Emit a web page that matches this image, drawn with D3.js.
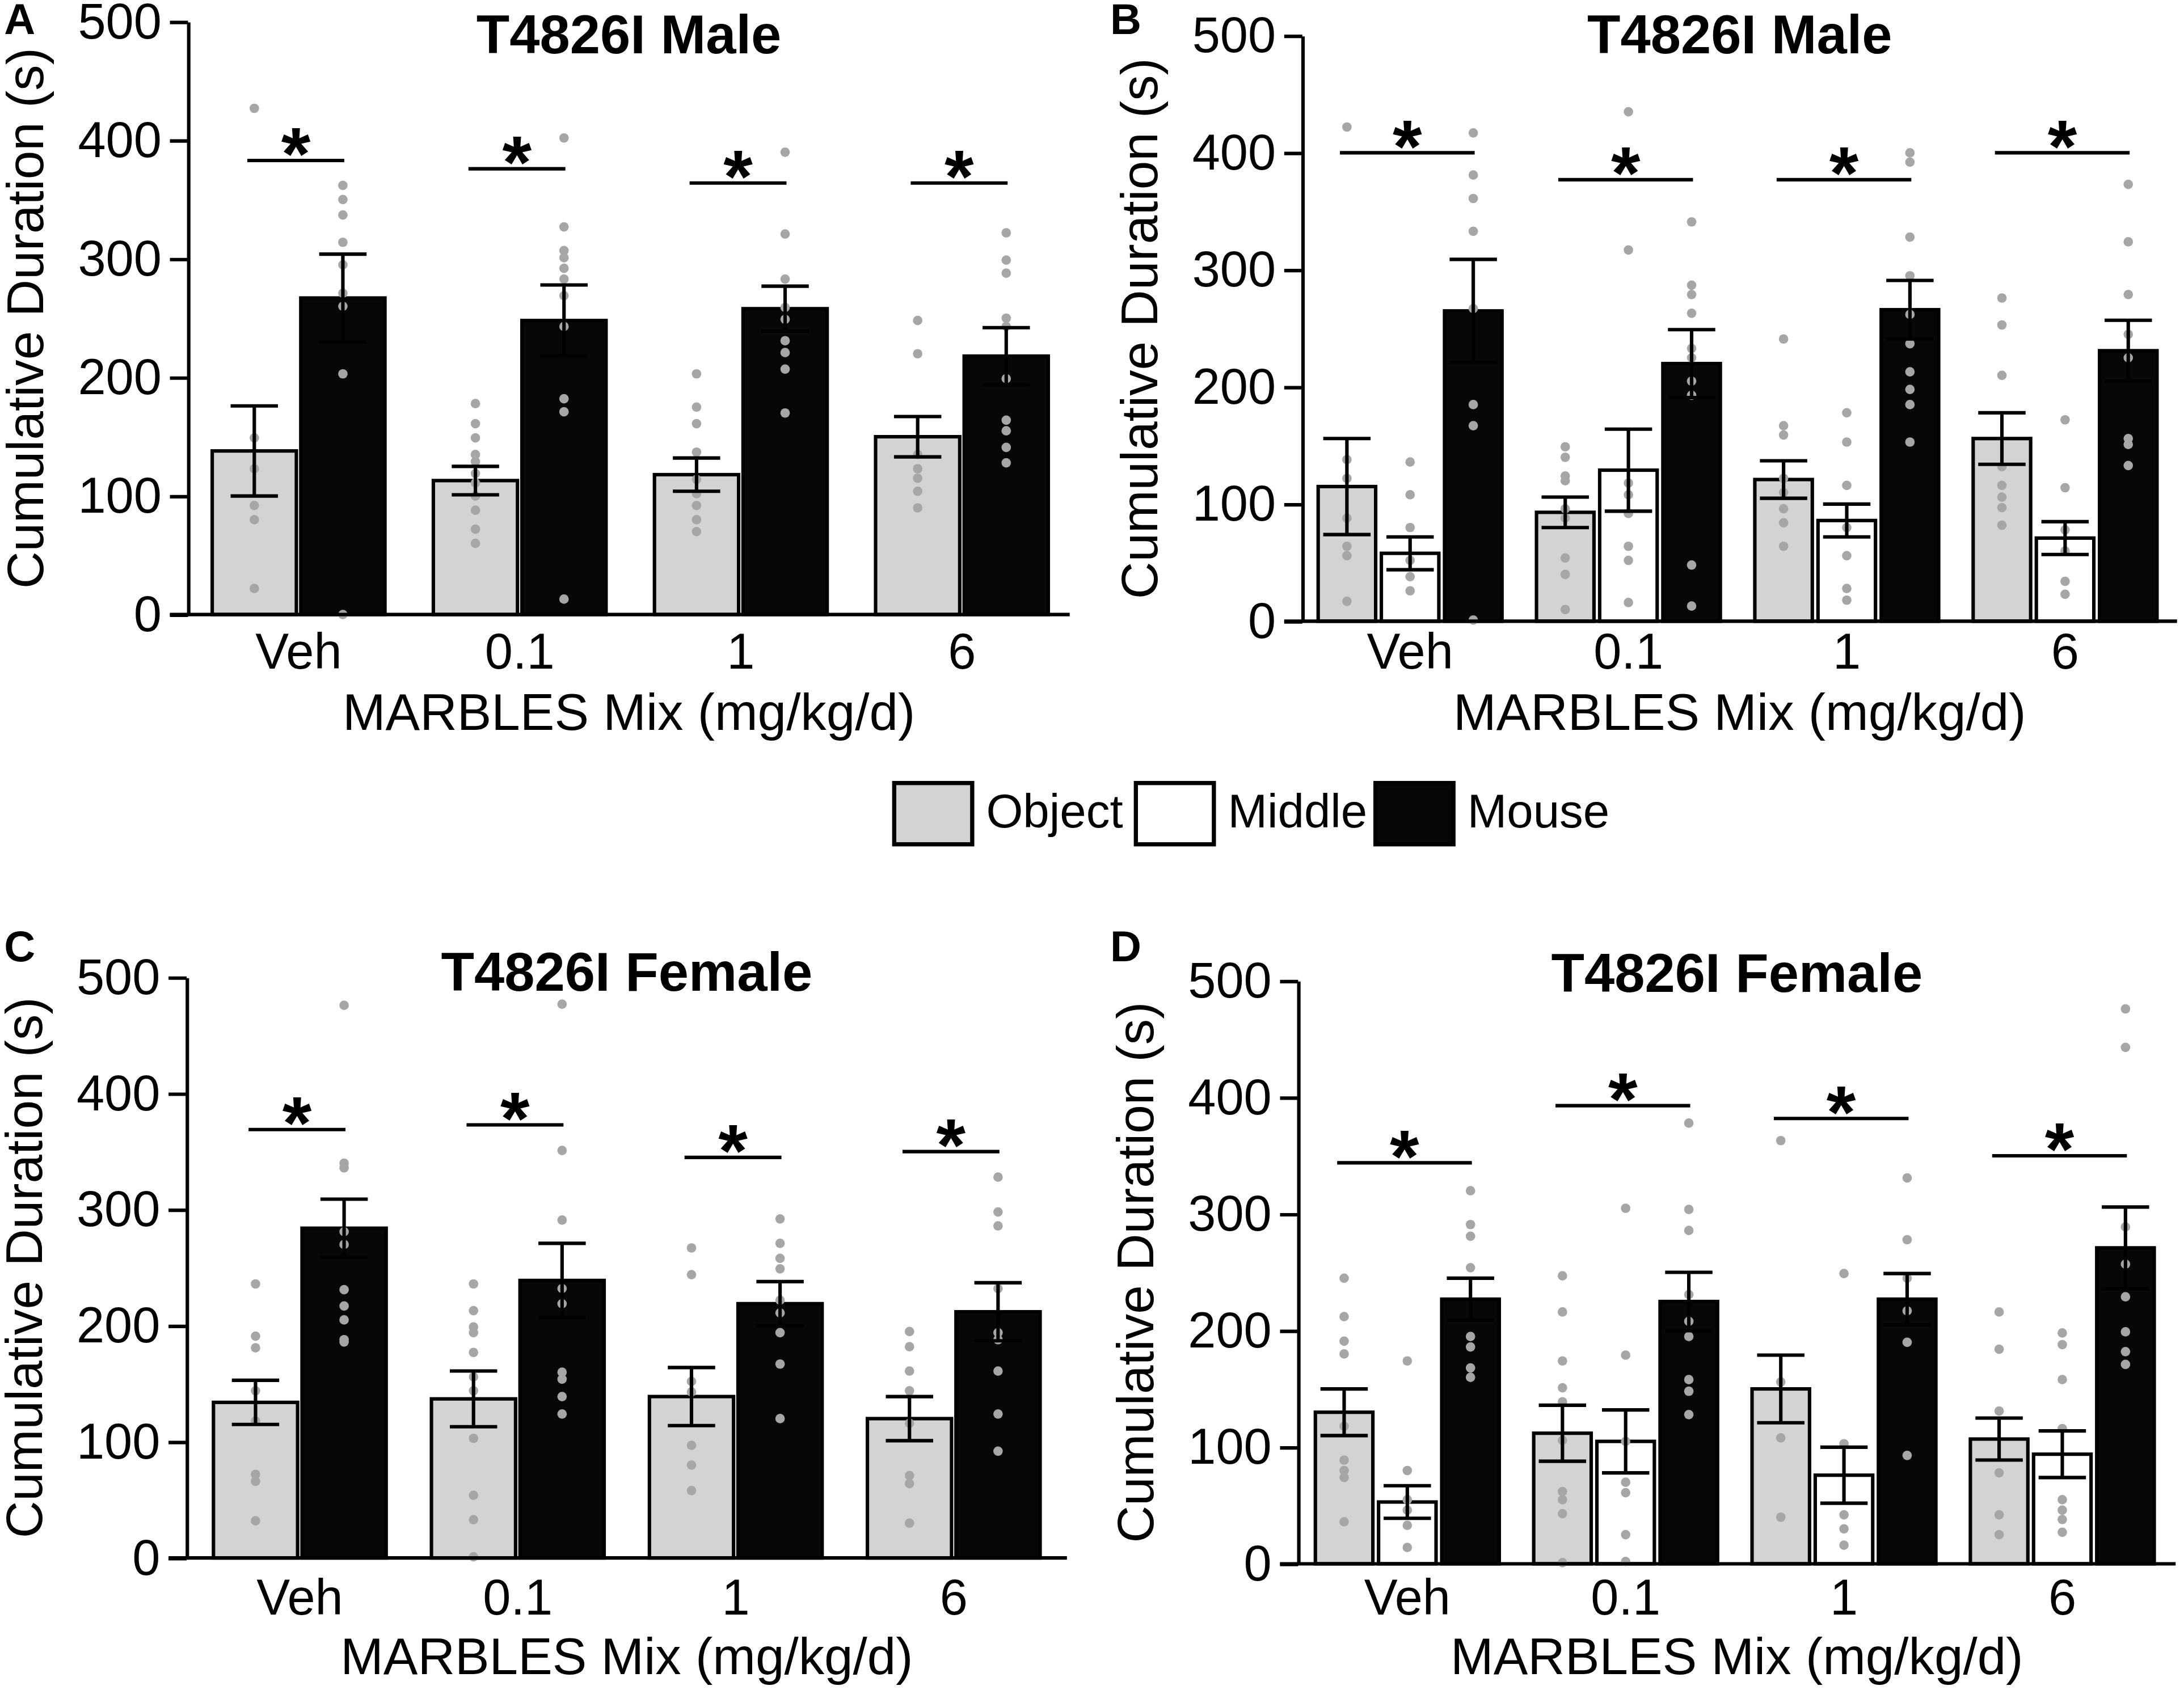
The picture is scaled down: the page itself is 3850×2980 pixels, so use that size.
<!DOCTYPE html>
<html>
<head>
<meta charset="utf-8">
<script src="https://cdn.jsdelivr.net/npm/d3@7"></script>
<style>
body { margin: 0; background: #fff; }
svg { display: block; }
text { font-family: "Liberation Sans", Arial, Helvetica, sans-serif; fill: #000; }
</style>
</head>
<body>
<svg id="fig"></svg>
<script>
// categories and ticks
const doses = ["Veh", "0.1", "1", "6"];
const zonesTwo = ["Object", "Mouse"];
const zonesThree = ["Object", "Middle", "Mouse"];
const yTicks = [0, 100, 200, 300, 400, 500];

// A: T4826I Male (object vs mouse)
const aObjMean = [138, 113, 118, 150];
const aObjSem = [38, 12, 14, 17];
const aMouseMean = [267, 248, 258, 218];
const aMouseSem = [37, 30, 19, 24];
const aObjDots = [
	[427, 149, 123, 92, 80, 22],
	[178, 161, 149, 135, 129, 119, 111, 100, 88, 72, 60],
	[203, 175, 161, 137, 114, 102, 92, 80, 70],
	[248, 220, 135, 123, 115, 104, 90],
];
const aMouseDots = [
	[362, 350, 337, 314, 295, 271, 260, 203, 0],
	[402, 327, 307, 301, 292, 283, 269, 243, 182, 171, 13],
	[390, 321, 283, 259, 249, 231, 221, 207, 170],
	[322, 299, 288, 250, 243, 199, 164, 155, 141, 128],
];
const aSig = [383, 376, 364, 364];

// B: T4826I Male (object, middle, mouse)
const bObjMean = [115, 93, 121, 156];
const bObjSem = [41, 13, 16, 22];
const bMidMean = [58, 129, 86, 71];
const bMidSem = [14, 35, 14, 14];
const bMouseMean = [265, 220, 266, 231];
const bMouseSem = [44, 29, 25, 26];
const bObjDots = [
	[422, 138, 122, 88, 64, 56, 17],
	[149, 140, 124, 120, 96, 88, 54, 40, 10],
	[241, 167, 159, 122, 110, 96, 84, 64],
	[276, 253, 210, 132, 116, 106, 97, 82],
];
const bMidDots = [
	[136, 108, 80, 52, 38, 26],
	[435, 317, 118, 108, 92, 64, 52, 16],
	[178, 153, 116, 80, 56, 28, 18],
	[172, 114, 78, 60, 34, 23],
];
const bMouseDots = [
	[417, 381, 361, 333, 267, 185, 167, 1],
	[341, 287, 279, 263, 233, 225, 205, 193, 48, 13],
	[400, 392, 328, 295, 262, 237, 213, 198, 185, 153],
	[373, 324, 279, 245, 225, 156, 151, 133],
];
const bSig = [400, 377, 377, 400];

// C: T4826I Female (object vs mouse)
const cObjMean = [134, 137, 139, 120];
const cObjSem = [19, 24, 25, 19];
const cMouseMean = [284, 239, 219, 212];
const cMouseSem = [25, 32, 19, 25];
const cObjDots = [
	[236, 191, 181, 144, 118, 72, 66, 32],
	[236, 213, 199, 194, 177, 156, 144, 103, 54, 33, 1],
	[267, 244, 152, 143, 97, 80, 58],
	[195, 182, 161, 144, 116, 71, 64, 30],
];
const cMouseDots = [
	[476, 340, 336, 281, 270, 231, 217, 205, 188, 186],
	[477, 351, 291, 232, 219, 160, 154, 139, 124],
	[292, 271, 258, 249, 222, 211, 194, 167, 120],
	[328, 298, 286, 232, 194, 188, 161, 124, 92],
];
const cSig = [369, 373, 345, 350];

// D: T4826I Female (object, middle, mouse)
const dObjMean = [130, 112, 150, 107];
const dObjSem = [20, 24, 29, 18];
const dMidMean = [53, 105, 76, 94];
const dMidSem = [14, 27, 24, 20];
const dMouseMean = [227, 225, 227, 271];
const dMouseSem = [18, 25, 22, 35];
const dObjDots = [
	[245, 212, 191, 180, 118, 89, 80, 74, 36],
	[247, 216, 174, 151, 139, 106, 62, 55, 43, 1],
	[363, 156, 108, 40],
	[216, 184, 131, 78, 42, 25],
];
const dMidDots = [
	[174, 80, 55, 46, 33, 14],
	[305, 179, 105, 70, 61, 25, 2],
	[249, 103, 42, 30, 16],
	[198, 188, 158, 116, 55, 46, 38, 27],
];
const dMouseDots = [
	[320, 291, 281, 254, 195, 186, 168, 160],
	[378, 304, 286, 231, 208, 195, 158, 148, 128],
	[331, 278, 245, 217, 190, 93],
	[476, 443, 289, 257, 229, 199, 182, 171],
];
const dSig = [344, 393, 382, 350];

const zoneFill = { Object: "#d3d3d3", Middle: "#ffffff", Mouse: "#070707" };
const dotColor = "#a6a6a6";
const LW = 2.5;

// drawing is done in the 1568 x 1213 frame of the figure, scaled up to the page
const svg = d3.select("#fig")
	.attr("width", 3850)
	.attr("height", 2980)
	.attr("viewBox", "0 0 1568 1213");

const panels = [
	{
		letter: "A", title: "T4826I Male", lx: 3, ly: 24, titleY: 38, tickY: 480, xTitleY: 524,
		axisX: 135, axisEnd: 768, range: [135, 770], top: 15.3, bottom: 441,
		zones: zonesTwo, inner: [-62, 62], pad: 0.05,
		series: {
			Object: { mean: aObjMean, sem: aObjSem, dots: aObjDots },
			Mouse: { mean: aMouseMean, sem: aMouseSem, dots: aMouseDots },
		},
		sig: aSig,
	},
	{
		letter: "B", title: "T4826I Male", lx: 797, ly: 24, titleY: 38, tickY: 480, xTitleY: 524,
		axisX: 935, axisEnd: 1563, range: [934, 1561], top: 25.3, bottom: 445.8,
		zones: zonesThree, inner: [-66, 66], pad: 0.09,
		series: {
			Object: { mean: bObjMean, sem: bObjSem, dots: bObjDots },
			Middle: { mean: bMidMean, sem: bMidSem, dots: bMidDots },
			Mouse: { mean: bMouseMean, sem: bMouseSem, dots: bMouseDots },
		},
		sig: bSig,
	},
	{
		letter: "C", title: "T4826I Female", lx: 3, ly: 690, titleY: 711, tickY: 1159, xTitleY: 1202,
		axisX: 134, axisEnd: 766, range: [137, 763], top: 701.6, bottom: 1118.5,
		zones: zonesTwo, inner: [-62, 62], pad: 0.05,
		series: {
			Object: { mean: cObjMean, sem: cObjSem, dots: cObjDots },
			Mouse: { mean: cMouseMean, sem: cMouseSem, dots: cMouseDots },
		},
		sig: cSig,
	},
	{
		letter: "D", title: "T4826I Female", lx: 797, ly: 690, titleY: 712, tickY: 1159, xTitleY: 1202,
		axisX: 932, axisEnd: 1562, range: [932, 1559], top: 704.1, bottom: 1122.7,
		zones: zonesThree, inner: [-66, 66], pad: 0.09,
		series: {
			Object: { mean: dObjMean, sem: dObjSem, dots: dObjDots },
			Middle: { mean: dMidMean, sem: dMidSem, dots: dMidDots },
			Mouse: { mean: dMouseMean, sem: dMouseSem, dots: dMouseDots },
		},
		sig: dSig,
	},
];

function drawPanel(p) {
	const g = svg.append("g");
	const x = d3.scaleBand().domain(doses).range(p.range);
	const inner = d3.scaleBand().domain(p.zones).range(p.inner).paddingInner(p.pad);
	const y = d3.scaleLinear().domain([0, 500]).range([p.bottom, p.top]);
	const cx = (dose, zone) => x(dose) + x.bandwidth() / 2 + inner(zone) + inner.bandwidth() / 2;

	// bars
	p.zones.forEach((zone) => {
		const s = p.series[zone];
		g.append("g").selectAll("rect")
			.data(doses)
			.join("rect")
			.attr("x", (d) => x(d) + x.bandwidth() / 2 + inner(zone))
			.attr("y", (d, i) => y(s.mean[i]))
			.attr("width", inner.bandwidth())
			.attr("height", (d, i) => p.bottom - y(s.mean[i]))
			.attr("fill", zoneFill[zone])
			.attr("stroke", "#000")
			.attr("stroke-width", LW);
	});

	// individual animals
	p.zones.forEach((zone) => {
		const s = p.series[zone];
		const pts = [];
		doses.forEach((d, i) => s.dots[i].forEach((v) => pts.push({ d, v })));
		g.append("g").selectAll("circle")
			.data(pts)
			.join("circle")
			.attr("cx", (q) => cx(q.d, zone))
			.attr("cy", (q) => y(q.v))
			.attr("r", 3.4)
			.attr("fill", dotColor);
	});

	// error bars (mean +/- SEM), drawn over the dots
	p.zones.forEach((zone) => {
		const s = p.series[zone];
		const eg = g.append("g").attr("stroke", "#000").attr("stroke-width", LW);
		doses.forEach((d, i) => {
			const c = cx(d, zone);
			const hi = y(s.mean[i] + s.sem[i]);
			const lo = y(s.mean[i] - s.sem[i]);
			eg.append("line").attr("x1", c).attr("x2", c).attr("y1", hi).attr("y2", lo);
			eg.append("line").attr("x1", c - 17).attr("x2", c + 17).attr("y1", hi).attr("y2", hi);
			eg.append("line").attr("x1", c - 17).attr("x2", c + 17).attr("y1", lo).attr("y2", lo);
		});
	});

	// y axis
	g.append("g")
		.attr("transform", `translate(${p.axisX},0)`)
		.call(d3.axisLeft(y).tickValues(yTicks).tickSize(13).tickSizeOuter(0).tickPadding(6))
		.call((a) => {
			a.selectAll("path, line").attr("stroke", "#000").attr("stroke-width", LW);
			a.selectAll("text").attr("font-size", 36).attr("fill", "#000");
		});

	// x axis
	g.append("line")
		.attr("x1", p.axisX - 13).attr("x2", p.axisEnd)
		.attr("y1", p.bottom).attr("y2", p.bottom)
		.attr("stroke", "#000").attr("stroke-width", LW);
	g.append("g")
		.attr("transform", `translate(0,${p.bottom})`)
		.call(d3.axisBottom(x).tickSize(0).tickPadding(p.tickY - p.bottom - 0.71 * 36))
		.call((a) => {
			a.select(".domain").remove();
			a.selectAll("text").attr("font-size", 36).attr("fill", "#000");
		});

	const midX = (p.axisX + p.axisEnd) / 2;

	g.append("text")
		.attr("x", midX).attr("y", p.xTitleY)
		.attr("text-anchor", "middle").attr("font-size", 37)
		.text("MARBLES Mix (mg/kg/d)");

	g.append("text")
		.attr("transform", `translate(${p.axisX - 104},${(p.top + p.bottom) / 2}) rotate(-90)`)
		.attr("text-anchor", "middle").attr("font-size", 37)
		.text("Cumulative Duration (s)");

	g.append("text")
		.attr("x", midX).attr("y", p.titleY)
		.attr("text-anchor", "middle").attr("font-size", 39).attr("font-weight", "bold")
		.text(p.title);

	g.append("text")
		.attr("x", p.lx).attr("y", p.ly)
		.attr("font-size", 31).attr("font-weight", "bold")
		.text(p.letter);

	// significance: object vs mouse
	const sg = g.append("g");
	doses.forEach((d, i) => {
		const x1 = cx(d, "Object") - 5;
		const x2 = cx(d, "Mouse") + 1;
		sg.append("line")
			.attr("x1", x1).attr("x2", x2)
			.attr("y1", y(p.sig[i])).attr("y2", y(p.sig[i]))
			.attr("stroke", "#000").attr("stroke-width", LW);
		sg.append("text")
			.attr("x", (x1 + x2) / 2).attr("y", y(p.sig[i]) + 14)
			.attr("text-anchor", "middle").attr("font-size", 54).attr("font-weight", "bold")
			.text("*");
	});
}

panels.forEach(drawPanel);

// shared legend
const legendItems = zonesThree.map((z, i) => ({ zone: z, x: [642, 815.5, 987.5][i] }));
const lg = svg.append("g");
lg.selectAll("rect")
	.data(legendItems)
	.join("rect")
	.attr("x", (d) => d.x).attr("y", 562)
	.attr("width", 56).attr("height", 44)
	.attr("fill", (d) => zoneFill[d.zone])
	.attr("stroke", "#000").attr("stroke-width", 3);
lg.selectAll("text")
	.data(legendItems)
	.join("text")
	.attr("x", (d) => d.x + 66).attr("y", 594)
	.attr("font-size", 34)
	.text((d) => d.zone);
</script>
</body>
</html>
